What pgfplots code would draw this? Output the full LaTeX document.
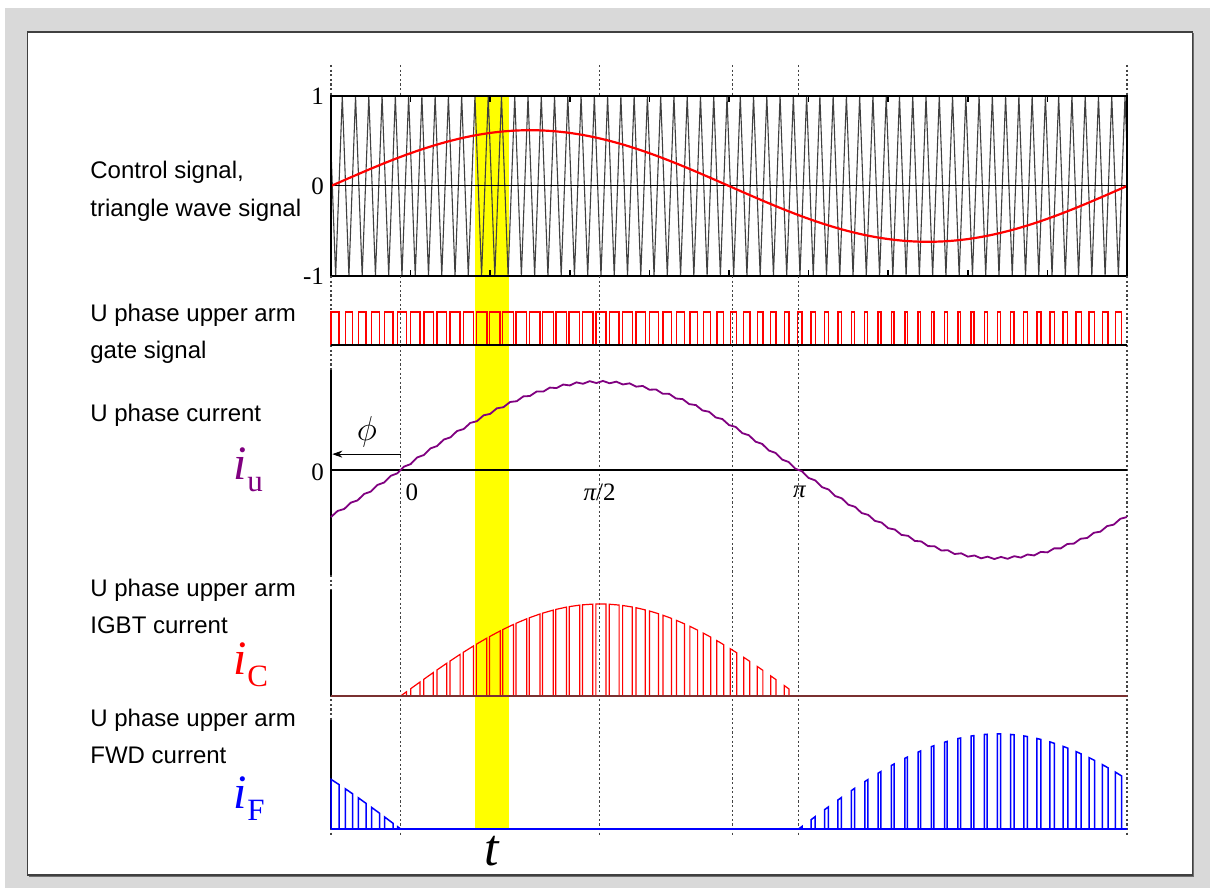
\documentclass[border=0pt]{standalone}
\usepackage{fontspec}
\setsansfont{Liberation Sans}
\newfontfamily\serif{Liberation Serif}
\usepackage{pgfplots}
\pgfplotsset{compat=1.18}
\usetikzlibrary{arrows.meta}

\definecolor{bggray}{HTML}{D9D9D9}
\definecolor{boxframe}{HTML}{404040}
\definecolor{boxshadow}{HTML}{6E6E6E}
\definecolor{carrier}{HTML}{404040}
\definecolor{iupurple}{HTML}{800080}
\definecolor{dotgray}{HTML}{444444}
\definecolor{band}{HTML}{FFFF00}
\definecolor{icbase}{HTML}{7A3030}

\newcommand\numfont{\serif\fontsize{12.5}{15}\selectfont}
\newcommand\lblfont{\sffamily\fontsize{12}{14}\selectfont}
% large current symbols: italic i with upright subscript
\newcommand\cursym[1]{{\serif\fontsize{24}{28}\selectfont\itshape i\kern0.3pt\raisebox{-0.25em}{\upshape\fontsize{15.5}{18}\selectfont #1}}}

\pgfplotsset{
  panel/.style={scale only axis, width=398pt, xmin=0, xmax=60,
    anchor=south west, clip=false},
}
\tikzset{dotline/.style={draw=dotgray, line width=0.75pt, dash pattern=on 1.1pt off 1.2pt}}

\begin{document}
\begin{tikzpicture}[x=0.5pt,y=0.5pt]
% canvas and framed panel
\fill[white] (0,0) rectangle (1210,888);
\fill[bggray] (5,0) rectangle (1210,880);
\fill[white] (27.5,13) rectangle (1192.5,856);
\draw[boxshadow, line width=0.6pt] (28.5,12) -- (1193.5,12) -- (1193.5,855);
\draw[boxframe, line width=0.6pt] (27.5,13) rectangle (1192.5,856);
\path (0,823) coordinate (ytop) (0,792) coordinate (yfr) (0,612) coordinate (ybot) (0,53) coordinate (yend);

% ---- control signal and triangle carrier ----
\begin{axis}[panel, at={(165.5pt,306pt)}, height=90pt, ymin=-1, ymax=1,
  axis on top, axis line style={line width=1.2pt},
  xtick={6,12,18,24,30,36,42,48,54}, xticklabels={},
  tick align=inside, major tick length=3pt,
  xtick style={black, line width=0.8pt},
  ytick={-1,0,1}, yticklabels={-1,0,1}, ytick style={draw=none},
  yticklabel style={font=\numfont}]
\fill[band] (axis cs:10.85,1) rectangle (axis cs:13.42,-7.144);
\addplot[carrier, line width=0.55pt] coordinates {
(0,0.4) (0.35,-1) (0.85,1) (1.35,-1) (1.85,1) (2.35,-1) (2.85,1) (3.35,-1) (3.85,1) (4.35,-1) (4.85,1)
(5.35,-1) (5.85,1) (6.35,-1) (6.85,1) (7.35,-1) (7.85,1) (8.35,-1) (8.85,1) (9.35,-1) (9.85,1)
(10.35,-1) (10.85,1) (11.35,-1) (11.85,1) (12.35,-1) (12.85,1) (13.35,-1) (13.85,1) (14.35,-1) (14.85,1)
(15.35,-1) (15.85,1) (16.35,-1) (16.85,1) (17.35,-1) (17.85,1) (18.35,-1) (18.85,1) (19.35,-1) (19.85,1)
(20.35,-1) (20.85,1) (21.35,-1) (21.85,1) (22.35,-1) (22.85,1) (23.35,-1) (23.85,1) (24.35,-1) (24.85,1)
(25.35,-1) (25.85,1) (26.35,-1) (26.85,1) (27.35,-1) (27.85,1) (28.35,-1) (28.85,1) (29.35,-1) (29.85,1)
(30.35,-1) (30.85,1) (31.35,-1) (31.85,1) (32.35,-1) (32.85,1) (33.35,-1) (33.85,1) (34.35,-1) (34.85,1)
(35.35,-1) (35.85,1) (36.35,-1) (36.85,1) (37.35,-1) (37.85,1) (38.35,-1) (38.85,1) (39.35,-1) (39.85,1)
(40.35,-1) (40.85,1) (41.35,-1) (41.85,1) (42.35,-1) (42.85,1) (43.35,-1) (43.85,1) (44.35,-1) (44.85,1)
(45.35,-1) (45.85,1) (46.35,-1) (46.85,1) (47.35,-1) (47.85,1) (48.35,-1) (48.85,1) (49.35,-1) (49.85,1)
(50.35,-1) (50.85,1) (51.35,-1) (51.85,1) (52.35,-1) (52.85,1) (53.35,-1) (53.85,1) (54.35,-1) (54.85,1)
(55.35,-1) (55.85,1) (56.35,-1) (56.85,1) (57.35,-1) (57.85,1) (58.35,-1) (58.85,1) (59.35,-1) (59.85,1)
(60,0.4)};
\draw[black, line width=0.5pt] (axis cs:0,0) -- (axis cs:60,0);
\addplot[red, line width=1.1pt, smooth] coordinates {
(0,0) (1,0.0648) (2,0.1289) (3,0.1916) (4,0.2522) (5,0.3100) (6,0.3644) (7,0.4148) (8,0.4607) (9,0.5016)
(10,0.5369) (11,0.5664) (12,0.5897) (13,0.6064) (14,0.6166) (15,0.6200) (16,0.6166) (17,0.6064) (18,0.5897) (19,0.5664)
(20,0.5369) (21,0.5016) (22,0.4607) (23,0.4148) (24,0.3644) (25,0.3100) (26,0.2522) (27,0.1916) (28,0.1289) (29,0.0648)
(30,0) (31,-0.0648) (32,-0.1289) (33,-0.1916) (34,-0.2522) (35,-0.3100) (36,-0.3644) (37,-0.4148) (38,-0.4607) (39,-0.5016)
(40,-0.5369) (41,-0.5664) (42,-0.5897) (43,-0.6064) (44,-0.6166) (45,-0.6200) (46,-0.6166) (47,-0.6064) (48,-0.5897) (49,-0.5664)
(50,-0.5369) (51,-0.5016) (52,-0.4607) (53,-0.4148) (54,-0.3644) (55,-0.3100) (56,-0.2522) (57,-0.1916) (58,-0.1289) (59,-0.0648)
(60,0)};
\coordinate (d0) at (axis cs:0,1);
\coordinate (d1) at (axis cs:5.25,1);
\coordinate (d2) at (axis cs:20.25,1);
\coordinate (d3) at (axis cs:30.25,1);
\coordinate (d4) at (axis cs:35.25,1);
\coordinate (d5) at (axis cs:60,1);
\end{axis}

% dotted phase markers
\foreach \d in {d0,d1,d2,d3,d4,d5}{
  \draw[dotline] (\d |- ytop) -- (\d |- yfr);
  \draw[dotline] (\d |- ybot) -- (\d |- yend);
}

% ---- gate signal ----
\begin{axis}[panel, at={(165.5pt,271.5pt)}, height=16.5pt, ymin=0, ymax=1, hide axis]
\addplot[red, line width=0.7pt, const plot] coordinates {
(0,0) (0,1) (0.614,0) (1.086,1) (1.630,0) (2.070,1) (2.646,0) (3.054,1) (3.661,0) (4.039,1)
(4.675,0) (5.025,1) (5.689,0) (6.011,1) (6.702,0) (6.998,1) (7.714,0) (7.987,1) (8.724,0) (8.976,1)
(9.733,0) (9.967,1) (10.741,0) (10.959,1) (11.747,0) (11.953,1) (12.751,0) (12.949,1) (13.754,0) (13.946,1)
(14.755,0) (14.945,1) (15.754,0) (15.946,1) (16.752,0) (16.948,1) (17.748,0) (17.952,1) (18.743,0) (18.957,1)
(19.735,0) (19.965,1) (20.727,0) (20.973,1) (21.717,0) (21.983,1) (22.706,0) (22.995,1) (23.693,0) (24.007,1)
(24.680,0) (25.020,1) (25.665,0) (26.035,1) (26.650,0) (27.050,1) (27.635,0) (28.065,1) (28.619,0) (29.081,1)
(29.602,0) (30.098,1) (30.586,0) (31.114,1) (31.570,0) (32.130,1) (32.554,0) (33.146,1) (33.539,0) (34.161,1)
(34.525,0) (35.175,1) (35.511,0) (36.189,1) (36.498,0) (37.202,1) (37.486,0) (38.214,1) (38.476,0) (39.224,1)
(39.467,0) (40.233,1) (40.459,0) (41.241,1) (41.453,0) (42.247,1) (42.449,0) (43.251,1) (43.446,0) (44.254,1)
(44.445,0) (45.255,1) (45.446,0) (46.254,1) (46.448,0) (47.252,1) (47.452,0) (48.248,1) (48.457,0) (49.243,1)
(49.465,0) (50.236,1) (50.473,0) (51.227,1) (51.483,0) (52.217,1) (52.495,0) (53.206,1) (53.507,0) (54.193,1)
(54.520,0) (55.180,1) (55.535,0) (56.165,1) (56.550,0) (57.150,1) (57.565,0) (58.135,1) (58.581,0) (59.119,1)
(59.598,0) (60,0)};
\draw[black, line width=0.9pt] (axis cs:0,0) -- (axis cs:60,0);
\end{axis}

% ---- phase current ----
\begin{axis}[panel, at={(165.5pt,156.5pt)}, height=102.5pt, ymin=-1.193, ymax=1.136, hide axis]
\draw[black, line width=1pt] (axis cs:0,1.136) -- (axis cs:0,-1.193);
\draw[black, line width=1pt] (axis cs:0,0) -- (axis cs:60,0);
\addplot[iupurple, line width=0.9pt] coordinates {
(0,-0.5345) (0.5,-0.4652) (1,-0.4425) (1.5,-0.3707) (2,-0.3458) (2.5,-0.2720) (3,-0.2455) (3.5,-0.1702) (4,-0.1425) (4.5,-0.0665)
(5,-0.0382) (5.5,0.0382) (6,0.0665) (6.5,0.1425) (7,0.1702) (7.5,0.2455) (8,0.2720) (8.5,0.3458) (9,0.3707) (9.5,0.4425)
(10,0.4652) (10.5,0.5345) (11,0.5544) (11.5,0.6208) (12,0.6375) (12.5,0.7004) (13,0.7134) (13.5,0.7724) (14,0.7814) (14.5,0.8361)
(15,0.8406) (15.5,0.8908) (16,0.8906) (16.5,0.9359) (17,0.9306) (17.5,0.9708) (18,0.9604) (18.5,0.9953) (19,0.9794) (19.5,1.0089)
(20,0.9877) (20.5,1.0117) (21,0.9849) (21.5,1.0034) (22,0.9713) (22.5,0.9844) (23,0.9468) (23.5,0.9546) (24,0.9119) (24.5,0.9146)
(25,0.8668) (25.5,0.8646) (26,0.8121) (26.5,0.8054) (27,0.7484) (27.5,0.7374) (28,0.6764) (28.5,0.6615) (29,0.5968) (29.5,0.5784)
(30,0.5105) (30.5,0.4892) (31,0.4185) (31.5,0.3947) (32,0.3218) (32.5,0.2960) (33,0.2215) (33.5,0.1942) (34,0.1185) (34.5,0.0905)
(35,0.0142) (35.5,-0.0142) (36,-0.0905) (36.5,-0.1185) (37,-0.1942) (37.5,-0.2215) (38,-0.2960) (38.5,-0.3218) (39,-0.3947) (39.5,-0.4185)
(40,-0.4892) (40.5,-0.5105) (41,-0.5784) (41.5,-0.5968) (42,-0.6615) (42.5,-0.6764) (43,-0.7374) (43.5,-0.7484) (44,-0.8054) (44.5,-0.8121)
(45,-0.8646) (45.5,-0.8668) (46,-0.9146) (46.5,-0.9119) (47,-0.9546) (47.5,-0.9468) (48,-0.9844) (48.5,-0.9713) (49,-1.0034) (49.5,-0.9849)
(50,-1.0117) (50.5,-0.9877) (51,-1.0089) (51.5,-0.9794) (52,-0.9953) (52.5,-0.9604) (53,-0.9708) (53.5,-0.9306) (54,-0.9359) (54.5,-0.8906)
(55,-0.8908) (55.5,-0.8406) (56,-0.8361) (56.5,-0.7814) (57,-0.7724) (57.5,-0.7134) (58,-0.7004) (58.5,-0.6375) (59,-0.6208) (59.5,-0.5544)
(60,-0.5345)};
\node[anchor=east, inner sep=0pt, font=\numfont] at (axis cs:-0.5,-0.03) {0};
\node[font=\numfont] at (axis cs:6.1,-0.25) {0};
\node[font=\numfont] at (axis cs:20.25,-0.25) {{\itshape π}/2};
\node[font=\numfont] at (axis cs:35.3,-0.25) {{\itshape π}};
\node[font=\fontsize{16}{18}\selectfont] at (axis cs:2.7,0.43) {$\phi$};
\draw[-{Stealth[length=5pt,width=3.5pt]}, line width=0.4pt] (axis cs:5.25,0.18) -- (axis cs:0.1,0.18);
\end{axis}

% ---- upper arm IGBT current ----
\begin{axis}[panel, at={(165.5pt,96pt)}, height=53pt, ymin=0, ymax=1.152, hide axis]
\draw[black, line width=1pt] (axis cs:0,1.152) -- (axis cs:0,0);
\addplot[red, line width=0.6pt] coordinates {
(0,0) (5.25,0) (5.689,0.0460) (5.689,0)
(6.011,0) (6.011,0.0796) (6.702,0.1514) (6.702,0)
(6.998,0) (6.998,0.1820) (7.714,0.2552) (7.714,0)
(7.987,0) (7.987,0.2827) (8.724,0.3559) (8.724,0)
(8.976,0) (8.976,0.3804) (9.733,0.4524) (9.733,0)
(9.967,0) (9.967,0.4741) (10.741,0.5439) (10.741,0)
(10.959,0) (10.959,0.5628) (11.747,0.6291) (11.747,0)
(11.953,0) (11.953,0.6457) (12.751,0.7072) (12.751,0)
(12.949,0) (12.949,0.7217) (13.754,0.7775) (13.754,0)
(13.946,0) (13.946,0.7899) (14.755,0.8391) (14.755,0)
(14.945,0) (14.945,0.8497) (15.754,0.8913) (15.754,0)
(15.946,0) (15.946,0.9002) (16.752,0.9336) (16.752,0)
(16.948,0) (16.948,0.9408) (17.748,0.9659) (17.748,0)
(17.952,0) (17.952,0.9712) (18.743,0.9876) (18.743,0)
(18.957,0) (18.957,0.9908) (19.735,0.9985) (19.735,0)
(19.965,0) (19.965,0.9996) (20.727,0.9988) (20.727,0)
(20.973,0) (20.973,0.9971) (21.717,0.9882) (21.717,0)
(21.983,0) (21.983,0.9836) (22.706,0.9671) (22.706,0)
(22.995,0) (22.995,0.9590) (23.693,0.9357) (23.693,0)
(24.007,0) (24.007,0.9236) (24.680,0.8944) (24.680,0)
(25.020,0) (25.020,0.8777) (25.665,0.8434) (25.665,0)
(26.035,0) (26.035,0.8220) (26.650,0.7837) (26.650,0)
(27.050,0) (27.050,0.7570) (27.635,0.7157) (27.635,0)
(28.065,0) (28.065,0.6833) (28.619,0.6399) (28.619,0)
(29.081,0) (29.081,0.6020) (29.602,0.5575) (29.602,0)
(30.098,0) (30.098,0.5137) (30.586,0.4693) (30.586,0)
(31.114,0) (31.114,0.4197) (31.570,0.3759) (31.570,0)
(32.130,0) (32.130,0.3210) (32.554,0.2786) (32.554,0)
(33.146,0) (33.146,0.2186) (33.539,0.1782) (33.539,0)
(34.161,0) (34.161,0.1138) (34.525,0.0758) (34.525,0)
(60,0)};
\draw[icbase, line width=1pt] (axis cs:0,0) -- (axis cs:60,0);
\end{axis}

% ---- upper arm FWD current ----
\begin{axis}[panel, at={(165.5pt,29.5pt)}, height=54.5pt, ymin=0, ymax=1.147, hide axis]
\draw[black, line width=1pt] (axis cs:0,1.147) -- (axis cs:0,0);
\draw[black, line width=1pt] (axis cs:0,0) -- (axis cs:60,0);
\addplot[blue, line width=0.75pt] coordinates {
(0,0) (0,0.5225) (0.614,0.4667) (0.614,0)
(1.086,0) (1.086,0.4223) (1.630,0.3701) (1.630,0)
(2.070,0) (2.070,0.3269) (2.646,0.2693) (2.646,0)
(3.054,0) (3.054,0.2279) (3.661,0.1656) (3.661,0)
(4.039,0) (4.039,0.1265) (4.675,0.0602) (4.675,0)
(5.025,0) (5.025,0.0236) (5.25,0)
(35.25,0) (35.511,0.0273) (35.511,0)
(36.189,0) (36.189,0.0982) (36.498,0.1303) (36.498,0)
(37.202,0) (37.202,0.2030) (37.486,0.2320) (37.486,0)
(38.214,0) (38.214,0.3054) (38.476,0.3314) (38.476,0)
(39.224,0) (39.224,0.4042) (39.467,0.4274) (39.467,0)
(40.233,0) (40.233,0.4984) (40.459,0.5188) (40.459,0)
(41.241,0) (41.241,0.5869) (41.453,0.6049) (41.453,0)
(42.247,0) (42.247,0.6687) (42.449,0.6842) (42.449,0)
(43.251,0) (43.251,0.7432) (43.446,0.7565) (43.446,0)
(44.254,0) (44.254,0.8094) (44.445,0.8210) (44.445,0)
(45.255,0) (45.255,0.8663) (45.446,0.8760) (45.446,0)
(46.254,0) (46.254,0.9137) (46.448,0.9218) (46.448,0)
(47.252,0) (47.252,0.9511) (47.452,0.9574) (47.452,0)
(48.248,0) (48.248,0.9781) (48.457,0.9824) (48.457,0)
(49.243,0) (49.243,0.9944) (49.465,0.9966) (49.465,0)
(50.236,0) (50.236,1.0000) (50.473,0.9997) (50.473,0)
(51.227,0) (51.227,0.9948) (51.483,0.9917) (51.483,0)
(52.217,0) (52.217,0.9789) (52.495,0.9725) (52.495,0)
(53.206,0) (53.206,0.9525) (53.507,0.9424) (53.507,0)
(54.193,0) (54.193,0.9160) (54.520,0.9017) (54.520,0)
(55.180,0) (55.180,0.8697) (55.535,0.8505) (55.535,0)
(56.165,0) (56.165,0.8141) (56.550,0.7902) (56.550,0)
(57.150,0) (57.150,0.7501) (57.565,0.7209) (57.565,0)
(58.135,0) (58.135,0.6780) (58.581,0.6430) (58.581,0)
(59.119,0) (59.119,0.5990) (59.598,0.5577) (59.598,0)
(60,0)};
\draw[blue, line width=1pt] (axis cs:0,0) -- (axis cs:60,0);
\node[font=\serif\fontsize{26}{30}\selectfont\itshape, anchor=base] at (axis cs:12.1,-0.38) {t};
\end{axis}

% panel captions
\begin{scope}[every node/.style={anchor=base west, inner sep=0pt, font=\lblfont}]
\node at (90,709) {Control signal,};
\node at (90,671) {triangle wave signal};
\node at (90,566) {U phase upper arm};
\node at (90,529) {gate signal};
\node at (90,466) {U phase current};
\node at (90,291) {U phase upper arm};
\node at (90,254) {IGBT current};
\node at (90,161) {U phase upper arm};
\node at (90,124) {FWD current};
\end{scope}
\node[anchor=base west, inner sep=0pt, text=iupurple] at (233,408) {\cursym{u}};
\node[anchor=base west, inner sep=0pt, text=red] at (233,213) {\cursym{C}};
\node[anchor=base west, inner sep=0pt, text=blue] at (233,79) {\cursym{F}};
\end{tikzpicture}
\end{document}
